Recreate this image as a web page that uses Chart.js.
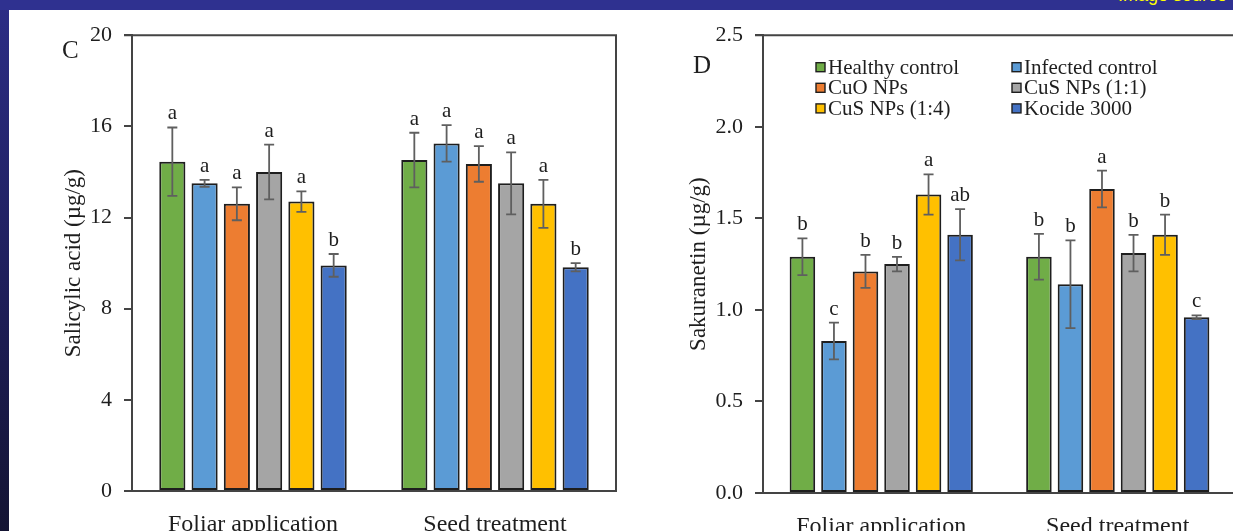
<!DOCTYPE html>
<html lang="en">
<head>
<meta charset="UTF-8">
<title>Salicylic acid and sakuranetin</title>
<script src="https://cdn.jsdelivr.net/npm/chart.js"></script>
<style>
    html, body {
        margin: 0;
        width: 1233px;
        height: 531px;
        overflow: hidden;
        background: linear-gradient(180deg, #2c2d86 0%, #1d1d55 60%, #141433 100%);
        position: relative;
    }
    .topband {
        position: absolute; left: 0; top: 0; width: 1233px; height: 10px;
        background: #2f3190;
        overflow: hidden;
    }
    .panel {
        position: absolute; left: 9px; top: 10px; width: 1224px; height: 521px;
        background: #fff;
        overflow: hidden;
    }
    .src {
        position: absolute; right: 6px; top: -15px;
        color: #ffff00; font: 18px "Liberation Sans", sans-serif;
    }
    canvas { position: absolute; top: 0; }
</style>
</head>
<body>
<div class="topband"><div class="src">Image source</div></div>
<div class="panel">
    <canvas id="chartC" width="620" height="521" style="left:1px"></canvas>
    <canvas id="chartD" width="620" height="521" style="left:621px"></canvas>
</div>

<script>
// data
const groups = ['Foliar application', 'Seed treatment'];
const treatments = ['Healthy control', 'Infected control', 'CuO NPs', 'CuS NPs (1:1)', 'CuS NPs (1:4)', 'Kocide 3000'];
const colors = ['#70AD47', '#5B9BD5', '#ED7D31', '#A5A5A5', '#FFC000', '#4472C4'];

// C: salicylic acid (µg/g), one array per treatment: [foliar, seed]
const saHealthy  = [14.45, 14.52];
const saInfected = [13.5, 15.25];
const saCuO      = [12.6, 14.35];
const saCuS11    = [14.0, 13.5];
const saCuS14    = [12.7, 12.6];
const saKocide   = [9.9, 9.82];
const saErr = [[1.5, 1.2], [0.15, 0.8], [0.72, 0.78], [1.2, 1.36], [0.45, 1.05], [0.5, 0.18]];
const saLetters = [['a', 'a'], ['a', 'a'], ['a', 'a'], ['a', 'a'], ['a', 'a'], ['b', 'b']];
const saTicks = [0, 4, 8, 12, 16, 20];

// D: sakuranetin (µg/g)
const skHealthy  = [1.29, 1.29];
const skInfected = [0.83, 1.14];
const skCuO      = [1.21, 1.66];
const skCuS11    = [1.25, 1.31];
const skCuS14    = [1.63, 1.41];
const skKocide   = [1.41, 0.96];
const skErr = [[0.1, 0.125], [0.1, 0.24], [0.09, 0.1], [0.04, 0.1], [0.11, 0.11], [0.14, 0.01]];
const skLetters = [['b', 'b'], ['c', 'b'], ['b', 'a'], ['b', 'b'], ['a', 'b'], ['ab', 'c']];
const skTicks = [0, 0.5, 1.0, 1.5, 2.0, 2.5];

const serif = '"Liberation Serif", "Times New Roman", serif';
const ink = '#1e1e1e';
const lineCol = '#444';

// error bars, significance letters, box lines and the panel letter
const extras = {
    id: 'extras',
    afterDatasetsDraw(chart, args, opts) {
        const ctx = chart.ctx;
        const y = chart.scales.y;
        const a = chart.chartArea;
        ctx.save();
        chart.data.datasets.forEach((ds, i) => {
            const meta = chart.getDatasetMeta(i);
            meta.data.forEach((bar, j) => {
                const v = ds.data[j];
                const e = opts.err[i][j];
                const yt = y.getPixelForValue(v + e);
                const yb = y.getPixelForValue(v - e);
                ctx.strokeStyle = '#5f5f5f';
                ctx.lineWidth = 1.8;
                ctx.beginPath();
                ctx.moveTo(bar.x, yt); ctx.lineTo(bar.x, yb);
                ctx.moveTo(bar.x - 5, yt); ctx.lineTo(bar.x + 5, yt);
                ctx.moveTo(bar.x - 5, yb); ctx.lineTo(bar.x + 5, yb);
                ctx.stroke();
                ctx.fillStyle = ink;
                ctx.font = '21px ' + serif;
                ctx.textAlign = 'center';
                ctx.textBaseline = 'alphabetic';
                ctx.fillText(opts.letters[i][j], bar.x, yt - 8);
            });
        });
        // top and right frame lines
        ctx.strokeStyle = lineCol;
        ctx.lineWidth = 2;
        ctx.beginPath();
        ctx.moveTo(a.left - 8, a.top); ctx.lineTo(a.right, a.top);
        ctx.lineTo(a.right, a.bottom);
        ctx.stroke();
        // panel letter
        ctx.fillStyle = ink;
        ctx.font = '25px ' + serif;
        ctx.textAlign = 'left';
        ctx.textBaseline = 'middle';
        ctx.fillText(opts.tag, a.left - 70, a.top + opts.tagY);
        // legend
        if (opts.legend) {
            ctx.font = '21px ' + serif;
            chart.data.datasets.forEach((ds, i) => {
                const col = i % 2, row = Math.floor(i / 2);
                const x = a.left + 53 + col * 196;
                const yy = a.top + 32 + row * 20.6;
                ctx.fillStyle = ds.backgroundColor;
                ctx.fillRect(x, yy - 4.5, 9, 9);
                ctx.strokeStyle = ink;
                ctx.lineWidth = 1.4;
                ctx.strokeRect(x, yy - 4.5, 9, 9);
                ctx.fillStyle = ink;
                ctx.textBaseline = 'middle';
                ctx.fillText(ds.label, x + 12, yy + 1);
            });
        }
        ctx.restore();
    }
};

function makeDatasets(series) {
    return series.map((d, i) => ({
        label: treatments[i],
        data: d,
        backgroundColor: colors[i],
        borderColor: ink,
        borderWidth: 2,
        borderSkipped: false,
        categoryPercentage: 0.8,
        barPercentage: 0.81
    }));
}

function makeChart(id, series, cfg) {
    return new Chart(document.getElementById(id), {
        type: 'bar',
        data: { labels: groups, datasets: makeDatasets(series) },
        plugins: [extras],
        options: {
            responsive: false,
            animation: false,
            devicePixelRatio: 1,
            layout: { padding: { top: cfg.top, right: 14, left: 0, bottom: 0 } },
            plugins: {
                legend: { display: false },
                tooltip: { enabled: false },
                extras: cfg.extras
            },
            scales: {
                x: {
                    grid: { display: false },
                    border: { display: true, color: lineCol, width: 2 },
                    ticks: { color: ink, font: { family: serif, size: 24 }, padding: 11, maxRotation: 0 },
                    afterFit: s => { s.height = cfg.xh; }
                },
                y: {
                    min: 0,
                    max: cfg.ticks[cfg.ticks.length - 1],
                    afterBuildTicks: s => { s.ticks = cfg.ticks.map(v => ({ value: v })); },
                    grid: { drawOnChartArea: false, tickLength: 8, color: lineCol, lineWidth: 2 },
                    border: { display: true, color: lineCol, width: 2 },
                    ticks: {
                        color: ink,
                        font: { family: serif, size: 22 },
                        padding: 12,
                        callback: v => cfg.fmt(v)
                    },
                    title: {
                        display: true,
                        text: cfg.title,
                        color: ink,
                        font: { family: serif, size: 23 },
                        padding: { top: cfg.titlePad, bottom: 0 }
                    },
                    afterFit: s => { s.width = cfg.yw; }
                }
            }
        }
    });
}

makeChart('chartC', [saHealthy, saInfected, saCuO, saCuS11, saCuS14, saKocide], {
    top: 25, xh: 40, yw: 122, titlePad: 50,
    ticks: saTicks,
    fmt: v => String(v),
    title: 'Salicylic acid (\u00b5g/g)',
    extras: { err: saErr, letters: saLetters, tag: 'C', tagY: 16, legend: false }
});

makeChart('chartD', [skHealthy, skInfected, skCuO, skCuS11, skCuS14, skKocide], {
    top: 22, xh: 38, yw: 133, titlePad: 55,
    ticks: skTicks,
    fmt: v => v.toFixed(1),
    title: 'Sakuranetin (\u00b5g/g)',
    extras: { err: skErr, letters: skLetters, tag: 'D', tagY: 31, legend: true }
});
</script>
</body>
</html>
